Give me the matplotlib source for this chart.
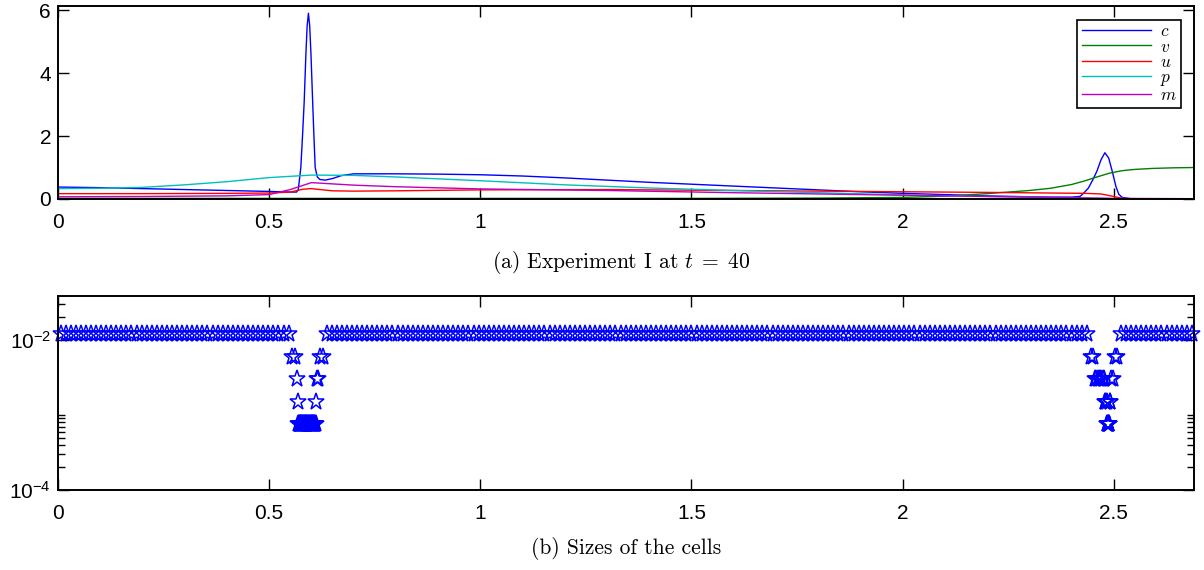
import numpy as np
import matplotlib
matplotlib.use("Agg")
import matplotlib.pyplot as plt
from matplotlib.ticker import FixedLocator, NullFormatter

plt.rcParams['font.family'] = ['Liberation Sans', 'DejaVu Sans']
plt.rcParams['mathtext.fontset'] = 'custom'
plt.rcParams['mathtext.rm'] = 'Liberation Sans'
plt.rcParams['mathtext.it'] = 'Liberation Sans:italic'
plt.rcParams['mathtext.bf'] = 'Liberation Sans:bold'

# ---- solution profiles at t = 40 ----
x_c = [0.0, 0.1, 0.2, 0.3, 0.4, 0.5, 0.55, 0.565, 0.569, 0.575, 0.579, 0.583, 0.587,
       0.590, 0.593, 0.596, 0.599, 0.603, 0.606, 0.609, 0.614, 0.62, 0.633, 0.65,
       0.67, 0.7, 0.8, 0.9, 1.0, 1.1, 1.2, 1.3, 1.4, 1.5, 1.6, 1.7, 1.8, 1.9, 2.0,
       2.1, 2.2, 2.3, 2.35, 2.4, 2.42, 2.43, 2.44, 2.45, 2.46, 2.47, 2.479, 2.488,
       2.497, 2.505, 2.512, 2.52, 2.54, 2.6, 2.69]
c = [0.38, 0.36, 0.33, 0.30, 0.27, 0.24, 0.22, 0.22, 0.3, 1.0, 2.0, 3.1, 4.6,
     5.5, 5.9, 5.5, 4.6, 3.1, 2.0, 1.0, 0.7, 0.62, 0.6, 0.65,
     0.74, 0.8, 0.80, 0.79, 0.77, 0.73, 0.67, 0.60, 0.53, 0.47, 0.41, 0.35, 0.29, 0.23, 0.18,
     0.14, 0.10, 0.07, 0.06, 0.06, 0.08, 0.2, 0.35, 0.6, 0.88, 1.25, 1.47, 1.3,
     0.85, 0.4, 0.15, 0.05, 0.01, 0.0, 0.0]

x_v = [0.0, 0.5, 1.0, 1.5, 1.8, 2.0, 2.1, 2.2, 2.3, 2.35, 2.4, 2.43, 2.46, 2.49,
       2.52, 2.55, 2.59, 2.64, 2.69]
v = [0.02, 0.02, 0.02, 0.02, 0.03, 0.05, 0.09, 0.17, 0.27, 0.34, 0.46, 0.57, 0.70, 0.82,
     0.90, 0.94, 0.97, 0.99, 1.0]

x_u = [0.0, 0.2, 0.4, 0.5, 0.55, 0.58, 0.6, 0.62, 0.65, 0.7, 0.8, 1.0, 1.3, 1.6,
       2.0, 2.2, 2.35, 2.43, 2.47, 2.5, 2.52, 2.55, 2.69]
u = [0.17, 0.17, 0.18, 0.19, 0.22, 0.31, 0.33, 0.30, 0.26, 0.25, 0.26, 0.29, 0.30, 0.27,
     0.23, 0.21, 0.19, 0.18, 0.16, 0.08, 0.02, 0.0, 0.0]

x_p = [0.0, 0.1, 0.2, 0.3, 0.4, 0.5, 0.6, 0.7, 0.8, 1.0, 1.2, 1.4, 1.6, 1.8, 2.0,
       2.2, 2.4, 2.5, 2.69]
p = [0.33, 0.34, 0.37, 0.45, 0.55, 0.68, 0.76, 0.75, 0.70, 0.58, 0.45, 0.35, 0.27, 0.2, 0.13,
     0.08, 0.04, 0.01, 0.0]

x_m = [0.0, 0.2, 0.4, 0.5, 0.55, 0.6, 0.65, 0.7, 0.8, 1.0, 1.3, 1.6, 2.0, 2.2,
       2.4, 2.5, 2.69]
m = [0.07, 0.08, 0.10, 0.14, 0.3, 0.52, 0.48, 0.44, 0.39, 0.32, 0.27, 0.2, 0.12, 0.08,
     0.04, 0.02, 0.01]

series = [("c", x_c, c, (0.0, 0.0, 1.0)),
          ("v", x_v, v, (0.0, 0.5, 0.0)),
          ("u", x_u, u, (1.0, 0.0, 0.0)),
          ("p", x_p, p, (0.0, 0.75, 0.75)),
          ("m", x_m, m, (0.75, 0.0, 0.75))]

# ---- adaptive mesh: (cell width, number of cells) from left to right ----
h = 0.012
mesh_widths = [h, h / 2, h / 4, h / 8, h / 16, h / 8, h / 4, h / 2,
               h, h / 2, h / 4, h / 8, h / 16, h / 8, h / 4, h / 2, h]
mesh_counts = [46, 2, 1, 1, 56, 1, 2, 2,
               151, 2, 8, 4, 8, 2, 2, 2, 15]

cell_w = np.repeat(mesh_widths, mesh_counts)
edges = np.concatenate([[0.0], np.cumsum(cell_w)])
centers = 0.5 * (edges[:-1] + edges[1:])

xticks = [0, 0.5, 1, 1.5, 2, 2.5]
xticklabels = ["0", "0.5", "1", "1.5", "2", "2.5"]

fig = plt.figure(figsize=(12.04, 5.70), dpi=100)
ax1 = fig.add_axes([58 / 1204, 1 - 199 / 570, 1136 / 1204, 193 / 570])
ax2 = fig.add_axes([58 / 1204, 1 - 490 / 570, 1136 / 1204, 194 / 570])

for name, xs, ys, col in series:
    ax1.plot(xs, ys, color=col, lw=1.0, label=f"${name}$")

ax1.set_xlim(0, 2.69)
ax1.set_ylim(0, 6.13)
ax1.set_yticks([0, 2, 4, 6])
ax1.set_yticklabels(["0", "2", "4", "6"])

leg = ax1.legend(loc="upper right", bbox_to_anchor=(0.9885, 0.93),
                 prop={'family': 'cmr10', 'size': 12.5, 'math_fontfamily': 'cm'},
                 handlelength=4.0, labelspacing=0.0, borderpad=0.25,
                 handletextpad=0.5, fancybox=False, framealpha=1,
                 borderaxespad=0.0)
leg.get_frame().set_edgecolor("black")
leg.get_frame().set_linewidth(1.2)

ax2.plot(centers, cell_w, linestyle="none", marker="*", markersize=12.5,
         markerfacecolor="none", markeredgecolor=(0, 0, 1), markeredgewidth=1.1,
         clip_on=False)
ax2.set_yscale("log")
ax2.set_xlim(0, 2.69)
ax2.set_ylim(1e-4, 0.0386)
ax2.yaxis.set_major_locator(FixedLocator([1e-4, 1e-2]))
ax2.yaxis.set_minor_locator(FixedLocator([2e-4, 3e-4, 4e-4, 5e-4, 6e-4, 7e-4, 8e-4,
                                          9e-4, 1e-3, 2e-2, 3e-2]))
ax2.yaxis.set_minor_formatter(NullFormatter())
ax2.set_yticklabels([r"$10^{-4}$", r"$10^{-2}$"])

for ax in (ax1, ax2):
    ax.set_xticks(xticks)
    ax.set_xticklabels(xticklabels)
    ax.tick_params(which="both", direction="in", top=True, right=True,
                   labelsize=15, width=1.0)
    ax.tick_params(axis="x", pad=10)
    ax.tick_params(axis="y", pad=5)
    ax.tick_params(which="major", length=8)
    ax.tick_params(which="minor", length=5)
    for s in ax.spines.values():
        s.set_linewidth(1.4)

cap_font = dict(family="cmr10", size=15.5, math_fontfamily="cm")
fig.text(0.516, 1 - 262 / 570, r"(a) Experiment I at $t\;=\;40$", ha="center", va="center",
         **cap_font)
fig.text(0.52, 1 - 548 / 570, "(b) Sizes of the cells", ha="center", va="center",
         **cap_font)

fig.savefig("out.png", dpi=100)
